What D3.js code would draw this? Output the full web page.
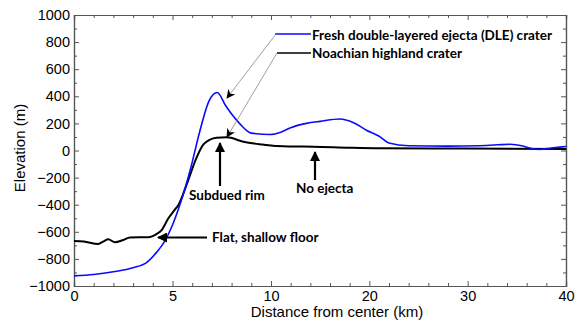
<!DOCTYPE html>
<html><head><meta charset="utf-8">
<script src="https://cdn.jsdelivr.net/npm/d3@7"></script>
<style>
html,body{margin:0;padding:0;background:#fff;}
svg{display:block;}
.tick text{font-family:"Liberation Sans",Arial,sans-serif;font-size:14.5px;fill:#000;}
.ann{font-family:Lato,"Open Sans",sans-serif;font-weight:bold;font-size:13.5px;fill:#000;}
.ttl{font-family:"Liberation Sans",Arial,sans-serif;font-size:15px;fill:#000;}
</style></head>
<body><svg id="c" width="576" height="322"></svg>
<script>
// ---- data ----
const dleKm   = [0,1,2,3,3.7,4.2,4.6,5.0,5.4,5.9,6.4,6.85,7.27,7.7,8.4,9.0,9.95,11,12,13.6,15,17,18.4,19.7,21,22,24,28,31,33,34.3,35.6,36.5,37.3,38.5,40];
const dleElev = [-925,-915,-895,-865,-825,-750,-670,-550,-390,-144,150,365,428,330,200,128,118,135,168,200,215,232,205,150,105,55,35,32,35,42,46,33,15,8,18,30];
const noaKm   = [0,0.5,1.23,1.5,1.74,2.08,2.5,2.84,3.77,4.2,4.45,4.79,5.1,5.3,5.8,6.2,6.57,6.9,7.24,7.75,8.6,9.5,10.2,12,14.3,18,21,30,40];
const noaElev = [-668,-672,-690,-670,-655,-677,-660,-642,-640,-615,-587,-500,-440,-402,-218,-60,45,80,94,97,65,45,35,30,28,20,16,14,11];
const xMajor = [0,5,10,20,30,40];
const xMinor = [1,2,3,4,6,7,8,9,12,14,16,18,22,24,26,28,32,34,36,38];
const yMajor = [-1000,-800,-600,-400,-200,0,200,400,600,800,1000];
const yMinor = [-900,-700,-500,-300,-100,100,300,500,700,900];
const seriesNames = ["Fresh double-layered ejecta (DLE) crater","Noachian highland crater"];
const xTitle = "Distance from center (km)";
const yTitle = "Elevation (m)";

// ---- layout ----
const L=74,R=566,T=15,B=286;
const svg = d3.select("#c");
const x = d3.scaleLinear().domain([0,10,40]).range([L,271,R]);
const y = d3.scaleLinear().domain([-1000,1000]).range([B,T]);
const axisColor="#555";

function styleAxis(g){
  g.selectAll(".domain").attr("stroke",axisColor).attr("stroke-width",1.2);
  g.selectAll(".tick line").attr("stroke",axisColor).attr("stroke-width",1);
}
// bottom
svg.append("g").attr("transform",`translate(0,${B})`)
  .call(d3.axisBottom(x).tickValues(xMajor).tickSize(-5).tickPadding(5).tickFormat(d3.format("d")))
  .call(styleAxis);
svg.append("g").attr("transform",`translate(0,${B})`)
  .call(d3.axisBottom(x).tickValues(xMinor).tickSize(-3).tickFormat(""))
  .call(styleAxis);
// top
svg.append("g").attr("transform",`translate(0,${T})`)
  .call(d3.axisTop(x).tickValues(xMajor).tickSize(-5).tickFormat(""))
  .call(styleAxis);
svg.append("g").attr("transform",`translate(0,${T})`)
  .call(d3.axisTop(x).tickValues(xMinor).tickSize(-3).tickFormat(""))
  .call(styleAxis);
// left
svg.append("g").attr("transform",`translate(${L},0)`)
  .call(d3.axisLeft(y).tickValues(yMajor).tickSize(-5).tickPadding(4).tickFormat(d3.format("d")))
  .call(styleAxis);
svg.append("g").attr("transform",`translate(${L},0)`)
  .call(d3.axisLeft(y).tickValues(yMinor).tickSize(-3).tickFormat(""))
  .call(styleAxis);
// right
svg.append("g").attr("transform",`translate(${R},0)`)
  .call(d3.axisRight(y).tickValues(yMajor).tickSize(-5).tickFormat(""))
  .call(styleAxis);
svg.append("g").attr("transform",`translate(${R},0)`)
  .call(d3.axisRight(y).tickValues(yMinor).tickSize(-3).tickFormat(""))
  .call(styleAxis);

// titles
svg.append("text").attr("class","ttl").attr("x",337).attr("y",317).attr("text-anchor","middle").text(xTitle);
svg.append("text").attr("class","ttl").attr("transform","translate(25,148) rotate(-90)").attr("text-anchor","middle").text(yTitle);

// lines
svg.append("defs").append("clipPath").attr("id","clip").append("rect")
  .attr("x",L).attr("y",T).attr("width",R-L).attr("height",B-T);
const line = d3.line().x(d=>x(d[0])).y(d=>y(d[1])).curve(d3.curveMonotoneX);
const plot = svg.append("g").attr("clip-path","url(#clip)");
plot.append("path").datum(noaKm.map((k,i)=>[k,noaElev[i]]))
  .attr("d",line).attr("fill","none").attr("stroke","#000").attr("stroke-width",2);
plot.append("path").datum(dleKm.map((k,i)=>[k,dleElev[i]]))
  .attr("d",line).attr("fill","none").attr("stroke","#0a0aff").attr("stroke-width",1.6);

// annotations
const defs = svg.select("defs");
defs.append("marker").attr("id","ah").attr("viewBox","0 0 10 10").attr("refX",9).attr("refY",5)
  .attr("markerWidth",9).attr("markerHeight",9).attr("markerUnits","userSpaceOnUse").attr("orient","auto")
  .append("path").attr("d","M0,0 L10,5 L0,10 L3,5 Z").attr("fill","#000");
defs.append("marker").attr("id","ahb").attr("viewBox","0 0 10 10").attr("refX",9).attr("refY",5)
  .attr("markerWidth",10).attr("markerHeight",10).attr("markerUnits","userSpaceOnUse").attr("orient","auto")
  .append("path").attr("d","M0,0 L10,5 L0,10 Z").attr("fill","#000");

// legend lines
svg.append("line").attr("x1",275).attr("x2",311).attr("y1",34).attr("y2",34).attr("stroke","#0a0aff").attr("stroke-width",1.6);
svg.append("line").attr("x1",277).attr("x2",311).attr("y1",53).attr("y2",53).attr("stroke","#000").attr("stroke-width",1.6);
// leaders
svg.append("line").attr("x1",276).attr("y1",34).attr("x2",227).attr("y2",98).attr("stroke","#888").attr("stroke-width",0.8).attr("marker-end","url(#ah)");
svg.append("line").attr("x1",277).attr("y1",53).attr("x2",227).attr("y2",137).attr("stroke","#888").attr("stroke-width",0.8).attr("marker-end","url(#ah)");
svg.append("text").attr("class","ann").attr("x",312).attr("y",40).text(seriesNames[0]);
svg.append("text").attr("class","ann").attr("x",312).attr("y",57.5).text(seriesNames[1]);

// arrows
svg.append("line").attr("x1",220).attr("y1",186).attr("x2",220).attr("y2",143).attr("stroke","#000").attr("stroke-width",2.2).attr("marker-end","url(#ahb)");
svg.append("line").attr("x1",315).attr("y1",180).attr("x2",315).attr("y2",152).attr("stroke","#000").attr("stroke-width",2.2).attr("marker-end","url(#ahb)");
svg.append("line").attr("x1",207).attr("y1",237.5).attr("x2",158).attr("y2",237.5).attr("stroke","#000").attr("stroke-width",2.2).attr("marker-end","url(#ahb)");
svg.append("text").attr("class","ann").attr("x",189).attr("y",200).text("Subdued rim");
svg.append("text").attr("class","ann").attr("x",296).attr("y",193).text("No ejecta");
svg.append("text").attr("class","ann").attr("x",212).attr("y",242).text("Flat, shallow floor");
</script></body></html>
